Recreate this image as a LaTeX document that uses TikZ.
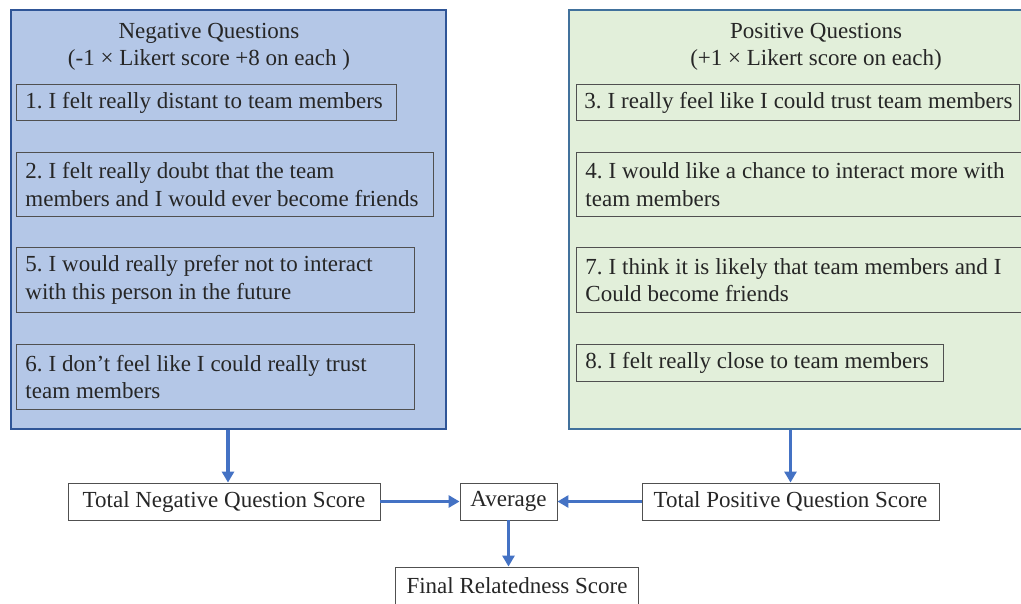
\documentclass[tikz,border=0pt]{standalone}
\usepackage{fontspec}
\setmainfont{Liberation Serif}
\usetikzlibrary{arrows.meta}
\definecolor{negfill}{HTML}{B4C7E7}
\definecolor{negdraw}{HTML}{2F5597}
\definecolor{posfill}{HTML}{E2EFDA}
\definecolor{posdraw}{HTML}{41719C}
\definecolor{arrowblue}{HTML}{4472C4}
\definecolor{boxline}{HTML}{505050}
\frenchspacing
\hyphenpenalty=10000
\hfuzz=100pt
\newcommand\qspacing{\spaceskip=5.9pt\relax}
\begin{document}
\begin{tikzpicture}[x=1pt,y=-1pt,
  every node/.style={font=\fontsize{23}{27.5}\selectfont\frenchspacing, text=black!85},
  panel/.style={line width=2pt, anchor=north west, inner sep=0pt},
  qbox/.style={draw=boxline, line width=0.9pt, anchor=north west, align=left, inner xsep=9pt, inner ysep=0pt,
    font=\fontsize{23}{27.5}\selectfont\frenchspacing\qspacing},
  sbox/.style={draw=boxline, line width=0.9pt, fill=white, inner sep=0pt, minimum height=37pt},
  arr/.style={draw=arrowblue, line width=3.5pt, -{Triangle[length=11pt,width=12pt]}}]
\clip (0,0) rectangle (1021,603);
\fill[white] (0,0) rectangle (1021,603);
% panels
\node[panel, fill=negfill, draw=negdraw, minimum width=435pt, minimum height=419pt] (neg) at (9.5,8.5) {};
\node[panel, fill=posfill, draw=posdraw, minimum width=480pt, minimum height=419pt] (pos) at (567.5,8.5) {};
% titles
\node[align=center] (negt) at (209,47) {Negative Questions\\(-1 × Likert score +8 on each )};
\node[align=center] (post) at (816,47) {Positive Questions\\(+1 × Likert score on each)};
% negative questions
\node[qbox, text width=362pt, minimum height=36pt] (q1) at (16,84) {\mbox{\qspacing 1. I felt really distant to team members}};
\node[qbox, text width=399pt, minimum height=64pt] (q2) at (16,152) {\mbox{\qspacing 2. I felt really doubt that the team}\\\mbox{\qspacing members and I would ever become friends}};
\node[qbox, text width=380pt, minimum height=65pt] (q5) at (16,247) {\mbox{\qspacing 5. I would really prefer not to interact}\\\mbox{\qspacing with this person in the future}};
\node[qbox, text width=380pt, minimum height=65pt] (q6) at (16,344) {\mbox{\qspacing 6. I don’t feel like I could really trust}\\\mbox{\qspacing team members}};
% positive questions
\node[qbox, inner xsep=8pt, text width=427pt, minimum height=36pt] (q3) at (576,84) {\mbox{\qspacing 3. I really feel like I could trust team members}};
\node[qbox, text width=450pt, minimum height=64pt] (q4) at (576,152) {\mbox{\qspacing 4. I would like a chance to interact more with}\\\mbox{\qspacing team members}};
\node[qbox, text width=450pt, minimum height=65pt] (q7) at (576,247) {\mbox{\qspacing 7. I think it is likely that team members and I}\\\mbox{\qspacing Could become friends}};
\node[qbox, text width=349pt, minimum height=37pt] (q8) at (576,344) {\mbox{\qspacing 8. I felt really close to team members}};
% bottom boxes
\node[sbox, minimum width=312pt] (tn) at (224,501.5) {Total Negative Question Score};
\node[sbox, minimum width=97pt] (avg) at (508.5,501.5) {Average};
\node[sbox, minimum width=297pt] (tp) at (790.5,501.5) {Total Positive Question Score};
\node[sbox, minimum width=243pt, minimum height=38pt] (fr) at (517,586) {Final Relatedness Score};
% arrows
\draw[arr] (neg.south) -- (neg.south |- tn.north);
\draw[arr] (tp.north |- pos.south) -- (tp.north);
\draw[arr] (tn.east) -- (avg.west);
\draw[arr] (tp.west) -- (avg.east);
\draw[arr] (avg.south) -- (avg.south |- fr.north);
\end{tikzpicture}
\end{document}
